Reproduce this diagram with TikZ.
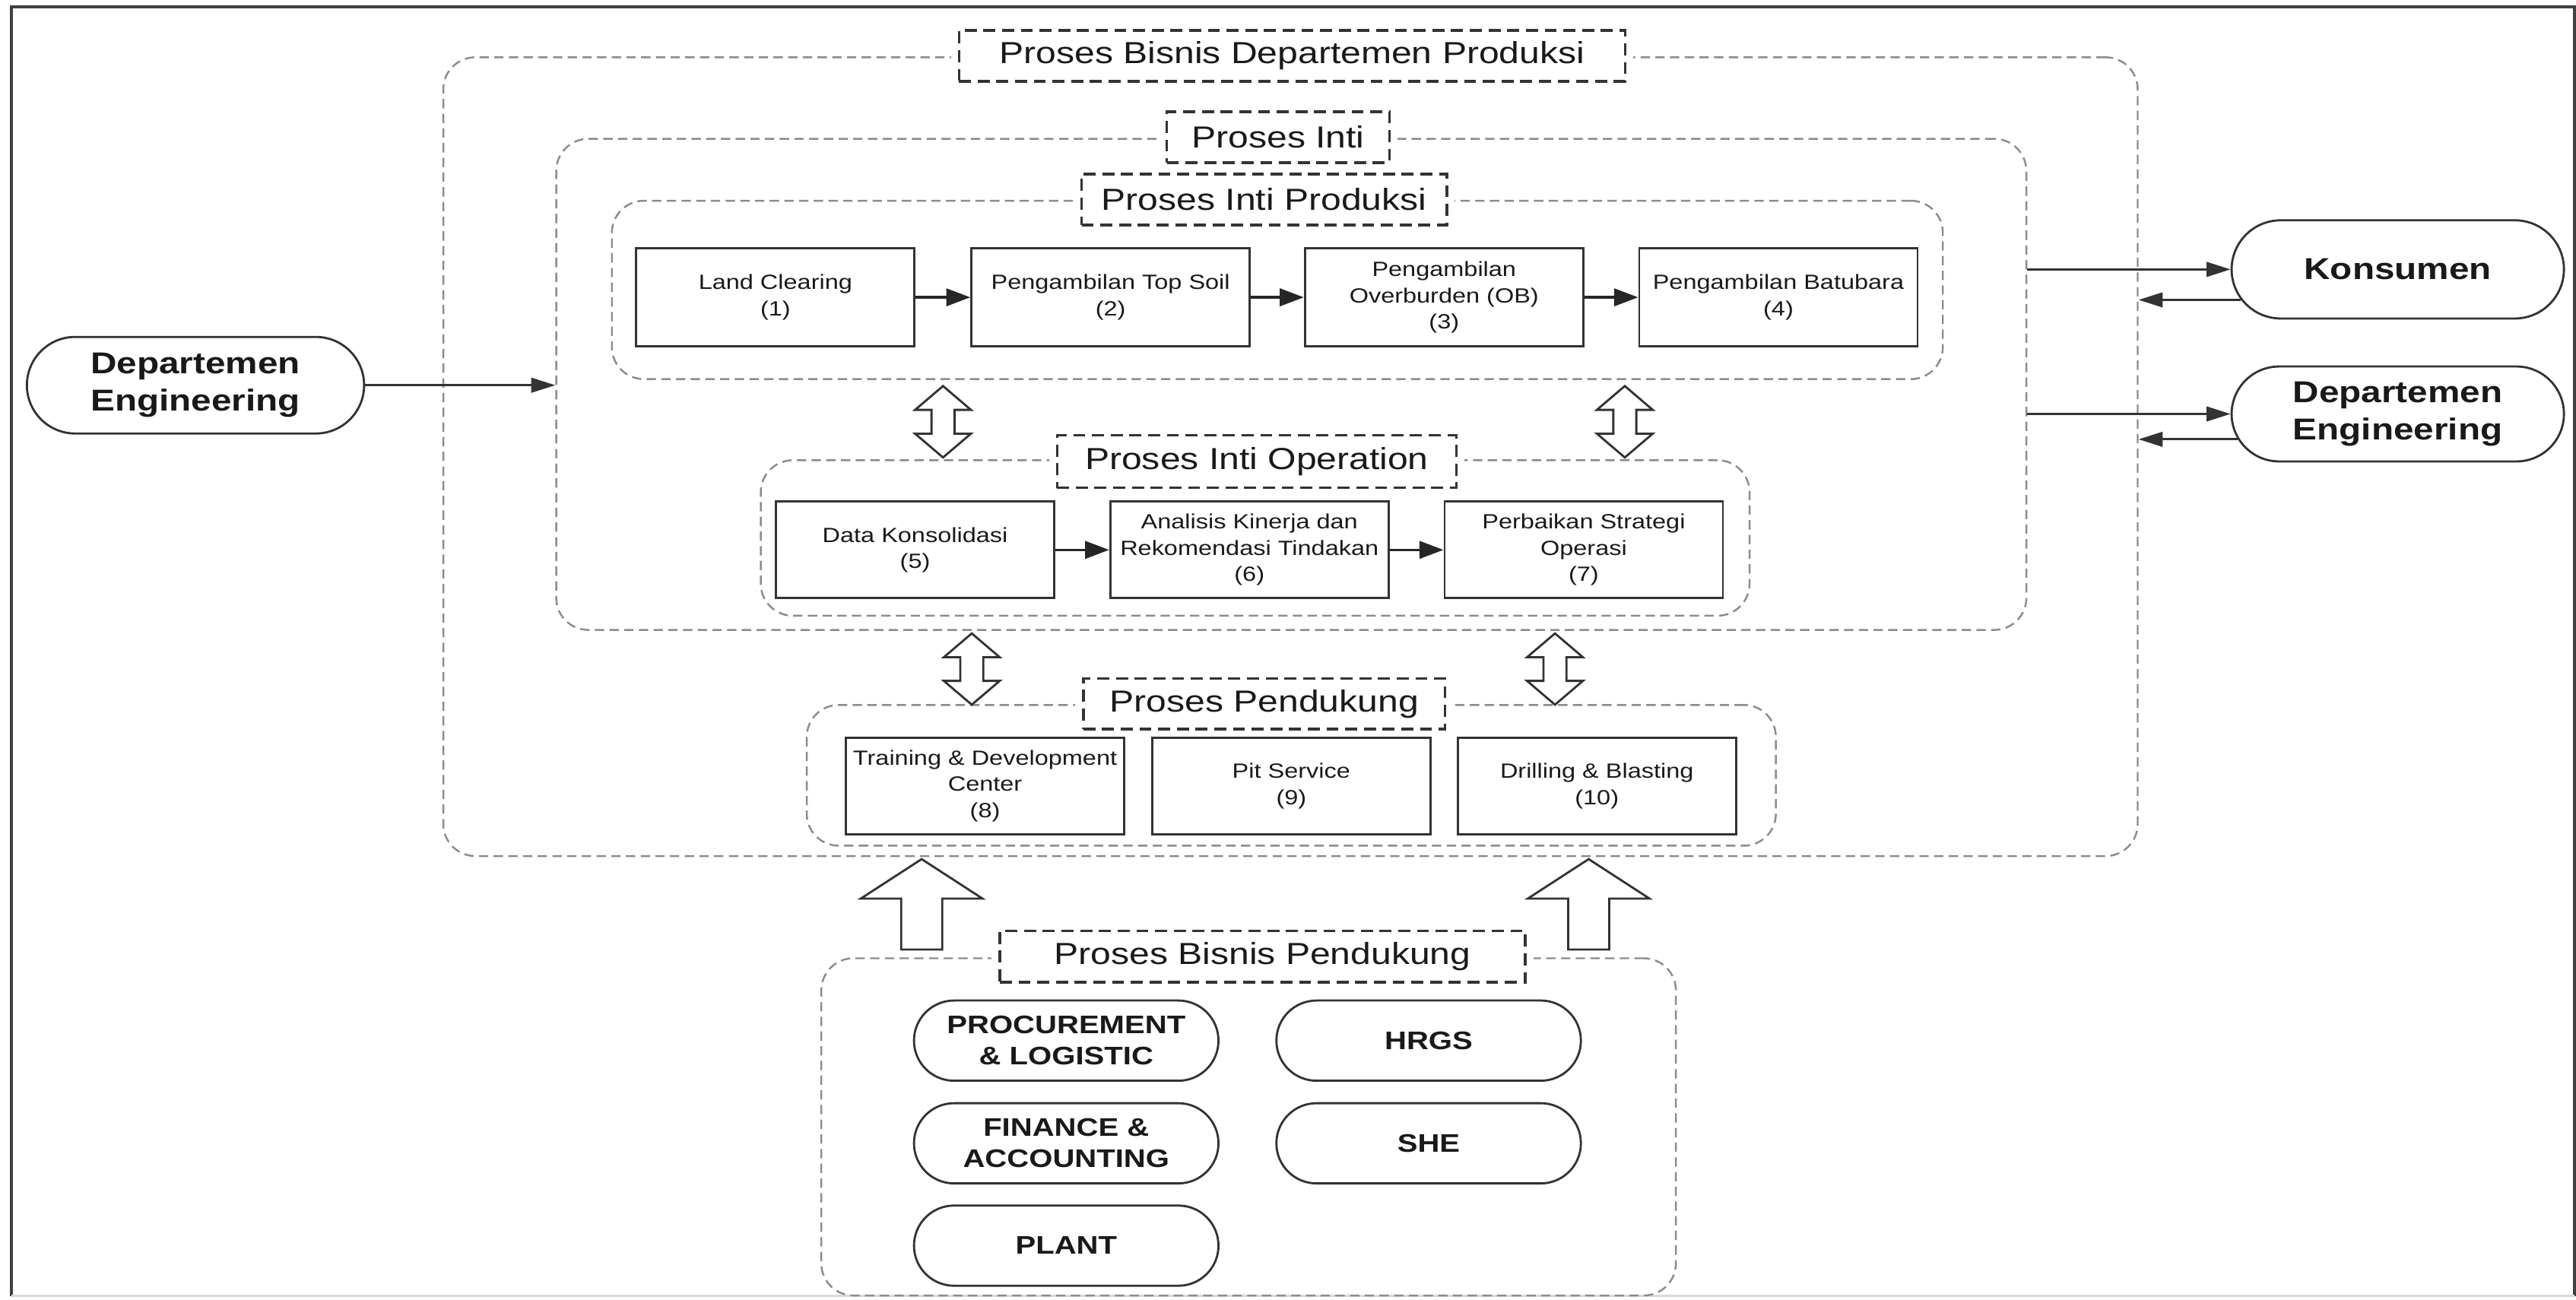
\documentclass[tikz,border=0pt]{standalone}
\usepackage{fontspec}
\setmainfont{Liberation Sans}[FakeStretch=1.2]
\usetikzlibrary{arrows.meta,shapes.misc}
\def\pxu{0.6126pt}
\newcommand\hdbl[3]{\draw[hollow] (#1,#2) -- ({#1+17},{#2+14.5}) -- ({#1+7},{#2+14.5}) -- ({#1+7},{#3-14.5}) -- ({#1+17},{#3-14.5}) -- (#1,#3) -- ({#1-17},{#3-14.5}) -- ({#1-7},{#3-14.5}) -- ({#1-7},{#2+14.5}) -- ({#1-17},{#2+14.5}) -- cycle;}
\newcommand\hup[3]{\draw[hollow] (#1,#2) -- ({#1+37},{#2+24}) -- ({#1+12.5},{#2+24}) -- ({#1+12.5},#3) -- ({#1-12.5},#3) -- ({#1-12.5},{#2+24}) -- ({#1-37},{#2+24}) -- cycle;}
\begin{document}
\begin{tikzpicture}[x=0.021607cm,y=-0.021607cm,
  container/.style={draw=black!45, line width=0.7pt, dash pattern=on 3.5pt off 2pt, rounded corners=12pt},
  titlebox/.style={draw=black!80, line width=1pt, dash pattern=on 4.5pt off 2.5pt, fill=white,
     preaction={draw=white, line width=6pt, solid}, inner sep=0pt, text=black!90,
     font=\fontsize{11.4}{13}\selectfont},
  procbox/.style={draw=black!80, line width=0.8pt, fill=white, align=center, inner sep=1pt,
     minimum width=170*\pxu, minimum height=59*\pxu, text=black!90,
     font=\fontsize{7.7}{9.8}\selectfont},
  pill/.style={rounded rectangle, draw=black!80, line width=0.8pt, fill=white, align=center,
     inner sep=0pt, minimum width=186*\pxu, minimum height=49*\pxu, text=black!90,
     font=\bfseries\fontsize{9.5}{11.6}\selectfont},
  extpill/.style={rounded rectangle, draw=black!80, line width=0.8pt, fill=white, align=center,
     inner sep=0pt, minimum width=203*\pxu, text=black!90,
     font=\bfseries\fontsize{11.3}{13.9}\selectfont},
  conn/.style={-{Triangle[length=9pt,width=6.5pt]}, line width=1pt, draw=black!85},
  thinconn/.style={-{Triangle[length=9pt,width=5.5pt]}, line width=0.8pt, draw=black!80},
  hollow/.style={draw=black!80, line width=0.8pt, fill=white, line join=miter}]
\useasboundingbox (0,0) rectangle (1568,791);
% frame
\draw[line width=1.1pt, black!75] (7,789) -- (7,4) -- (1567,4) -- (1567,789);
\draw[black!15, line width=0.8pt] (7,789) -- (1567,789);

% containers
\node[container, minimum width=1035*\pxu, minimum height=488*\pxu] (outer) at (785.5,278) {};
\node[container, minimum width=898*\pxu, minimum height=300*\pxu] (inti) at (786,234) {};
\node[container, minimum width=813*\pxu, minimum height=109*\pxu] (prod) at (777.5,176.5) {};
\node[container, minimum width=604*\pxu, minimum height=95*\pxu] (oper) at (764,327.5) {};
\node[container, minimum width=592*\pxu, minimum height=86*\pxu] (pend) at (786,472) {};
\node[container, minimum width=522*\pxu, minimum height=206*\pxu] (pbp) at (760,686) {};

% titles
\node[titlebox, minimum width=407*\pxu, minimum height=31*\pxu] (t0) at (786.5,34) {Proses Bisnis Departemen Produksi};
\node[titlebox, minimum width=136*\pxu, minimum height=31*\pxu] (t1) at (778,83.5) {Proses Inti};
\node[titlebox, minimum width=223*\pxu, minimum height=31*\pxu] (t2) at (769.5,121.5) {Proses Inti Produksi};
\node[titlebox, minimum width=244*\pxu, minimum height=32*\pxu] (t3) at (765,281) {Proses Inti Operation};
\node[titlebox, minimum width=221*\pxu, minimum height=31*\pxu] (t4) at (769.5,428.5) {Proses Pendukung};
\node[titlebox, minimum width=321*\pxu, minimum height=31.5*\pxu] (t5) at (768.5,582.3) {Proses Bisnis Pendukung};

% core production
\node[procbox, minimum height=60*\pxu] (b1) at (472,181) {Land Clearing\\(1)};
\node[procbox, minimum height=60*\pxu] (b2) at (676,181) {Pengambilan Top Soil\\(2)};
\node[procbox, minimum height=60*\pxu] (b3) at (879,181) {Pengambilan\\Overburden (OB)\\(3)};
\node[procbox, minimum height=60*\pxu] (b4) at (1082.5,181) {Pengambilan Batubara\\(4)};
\draw[conn] (b1) -- (b2);
\draw[conn] (b2) -- (b3);
\draw[conn] (b3) -- (b4);

% core operation
\node[procbox] (b5) at (557,334.75) {Data Konsolidasi\\(5)};
\node[procbox] (b6) at (760.5,334.75) {Analisis Kinerja dan\\Rekomendasi Tindakan\\(6)};
\node[procbox] (b7) at (964,334.75) {Perbaikan Strategi\\Operasi\\(7)};
\draw[conn] (b5) -- (b6);
\draw[conn] (b6) -- (b7);

% support
\node[procbox] (b8) at (599.6,478.5) {Training \& Development\\Center\\(8)};
\node[procbox] (b9) at (786,478.5) {Pit Service\\(9)};
\node[procbox] (b10) at (972,478.5) {Drilling \& Blasting\\(10)};

% hollow arrows
\hdbl{574}{235}{278.5}
\hdbl{989}{235}{278.5}
\hdbl{591.5}{385.6}{429}
\hdbl{946.5}{385.6}{429}
\hup{561}{523}{578}
\hup{967}{523}{578}

% business support units
\node[pill] (p1) at (649,633.5) {PROCUREMENT\\\& LOGISTIC};
\node[pill] (p2) at (869.6,633.5) {HRGS};
\node[pill] (p3) at (649,696) {FINANCE \&\\ACCOUNTING};
\node[pill] (p4) at (869.6,696) {SHE};
\node[pill] (p5) at (649,758.3) {PLANT};

% external parties
\node[extpill, minimum height=59*\pxu, minimum width=206*\pxu] (deL) at (119,234.5) {Departemen\\Engineering};
\node[extpill, minimum height=60*\pxu] (kons) at (1459.5,164) {Konsumen};
\node[extpill, minimum height=58*\pxu] (deR) at (1459.5,252) {Departemen\\Engineering};

\draw[thinconn] (deL.east) -- (deL.east -| inti.west);
\draw[thinconn] (kons.west -| inti.east) -- (kons.west);
\draw[thinconn] (kons.191) -- (kons.191 -| outer.east);
\draw[thinconn] (deR.west -| inti.east) -- (deR.west);
\draw[thinconn] (deR.189) -- (deR.189 -| outer.east);
\end{tikzpicture}
\end{document}
